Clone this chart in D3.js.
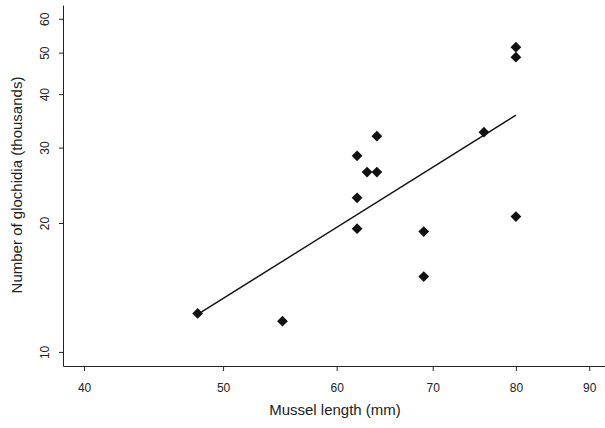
<!DOCTYPE html>
<html>
<head>
<meta charset="utf-8">
<script src="https://cdn.jsdelivr.net/npm/d3@7"></script>
<style>
  body { margin: 0; background: #fff; }
  text { font-family: "Liberation Sans", Arial, sans-serif; fill: #222; }
</style>
</head>
<body>
<div class="canvas"></div>
<script>
// mussel length (mm) and glochidia count (thousands)
const lengths = [48, 55, 62, 62, 62, 63, 64, 64, 69, 69, 76, 80, 80, 80];
const glochidia = [12.3, 11.8, 28.7, 22.9, 19.4, 26.3, 26.3, 31.9, 19.1, 15.0, 32.6, 20.7, 48.8, 51.5];
const xTicks = [40, 50, 60, 70, 80, 90];
const yTicks = [10, 20, 30, 40, 50, 60];

const dims = { width: 605, height: 428 };

const svg = d3.select('.canvas')
  .append('svg')
  .attr('width', dims.width)
  .attr('height', dims.height);

// both axes are logarithmic
const x = d3.scaleLog()
  .domain([38.67, 92.3])
  .range([63, 605]);

const y = d3.scaleLog()
  .domain([9.27, 64.6])
  .range([366, 5]);

const xAxis = d3.axisBottom(x)
  .tickValues(xTicks)
  .tickFormat(d3.format('d'))
  .tickSize(5)
  .tickSizeOuter(0);

const yAxis = d3.axisLeft(y)
  .tickValues(yTicks)
  .tickFormat(d3.format('d'))
  .tickSize(4)
  .tickSizeOuter(0);

const xG = svg.append('g')
  .attr('transform', 'translate(0, 366)')
  .call(xAxis);

xG.selectAll('text')
  .attr('dy', 0)
  .attr('y', 26)
  .style('font-size', '12px');

const yG = svg.append('g')
  .attr('transform', 'translate(63, 0)')
  .call(yAxis);

yG.selectAll('text')
  .attr('x', 0)
  .attr('y', 0)
  .attr('dy', 0)
  .attr('text-anchor', 'middle')
  .attr('dominant-baseline', 'central')
  .attr('transform', 'translate(-18, 0) rotate(-90)')
  .style('font-size', '12px');

svg.selectAll('.domain, .tick line')
  .attr('stroke', '#222')
  .attr('stroke-width', 1);

// least squares fit in log-log space
const lx = lengths.map(Math.log);
const ly = glochidia.map(Math.log);
const mx = d3.mean(lx);
const my = d3.mean(ly);
const slope = d3.sum(lx, (v, i) => (v - mx) * (ly[i] - my)) / d3.sum(lx, v => (v - mx) ** 2);
const fit = v => Math.exp(my + slope * (Math.log(v) - mx));
const xExt = d3.extent(lengths);

svg.append('line')
  .attr('x1', x(xExt[0]))
  .attr('y1', y(fit(xExt[0])))
  .attr('x2', x(xExt[1]))
  .attr('y2', y(fit(xExt[1])))
  .attr('stroke', '#111')
  .attr('stroke-width', 1.4);

const diamond = d3.symbol().type(d3.symbolSquare).size(58);

svg.append('g')
  .selectAll('path')
  .data(lengths.map((l, i) => ({ l, g: glochidia[i] })))
  .enter()
  .append('path')
    .attr('d', diamond)
    .attr('transform', d => `translate(${x(d.l)}, ${y(d.g)}) rotate(45)`)
    .attr('fill', '#111');

svg.append('text')
  .attr('x', 335)
  .attr('y', 415)
  .attr('text-anchor', 'middle')
  .style('font-size', '15px')
  .text('Mussel length (mm)');

svg.append('text')
  .attr('transform', 'translate(22, 185) rotate(-90)')
  .attr('text-anchor', 'middle')
  .style('font-size', '15px')
  .text('Number of glochidia (thousands)');
</script>
</body>
</html>
